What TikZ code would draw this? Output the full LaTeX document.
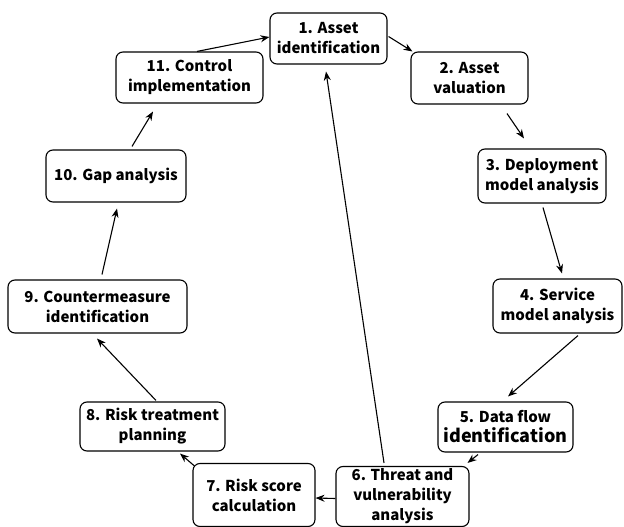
\documentclass[tikz,border=0pt]{standalone}
\usepackage{fontspec}
\setmainfont{Noto Sans CJK SC}
\usetikzlibrary{arrows.meta,calc}
\begin{document}
\begin{tikzpicture}[x=1pt,y=-1pt,
  stepbox/.style={draw, line width=1.1pt, rounded corners=7pt, align=center,
    inner sep=0pt, font=\fontsize{15}{20}\selectfont\bfseries},
  arr/.style={line width=1.1pt, -{Stealth[length=9pt,width=7pt]}}]
\useasboundingbox (0,0) rectangle (624,527);
\node[stepbox, minimum width=117pt, minimum height=51pt] (n1) at (328.5,38.5) {1. Asset\\identification};
\node[stepbox, minimum width=117pt, minimum height=52pt] (n2) at (469.5,78) {2. Asset\\valuation};
\node[stepbox, minimum width=128pt, minimum height=54pt] (n3) at (542,176) {3. Deployment\\model analysis};
\node[stepbox, minimum width=129pt, minimum height=54pt] (n4) at (557.5,306) {4. Service\\model analysis};
\node[stepbox, minimum width=135pt, minimum height=50pt] (n5) at (505.5,427) {5. Data flow\\{\fontsize{18}{20}\selectfont identification}};
\node[stepbox, minimum width=133pt, minimum height=60pt] (n6) at (402.5,496.5) {6. Threat and\\vulnerability\\analysis};
\node[stepbox, minimum width=122pt, minimum height=63pt] (n7) at (254,495) {7. Risk score\\calculation};
\node[stepbox, minimum width=145pt, minimum height=49pt] (n8) at (152.5,426.5) {8. Risk treatment\\planning};
\node[stepbox, minimum width=179pt, minimum height=53pt] (n9) at (97.5,306.5) {9. Countermeasure\\identification};
\node[stepbox, minimum width=140pt, minimum height=52pt] (n10) at (116,176) {10. Gap analysis};
\node[stepbox, minimum width=147pt, minimum height=51pt] (n11) at (189.5,77.5) {11. Control\\implementation};

\draw[arr] ($(n1.east)+(1,-2)$) -- ($(n2.north west)+(2,0)$);
\draw[arr] ($(n2.south)+(37.5,9)$) -- ($(n3.north)+(-18,-10)$);
\draw[arr] ($(n3.south)+(1,4)$) -- ($(n4.north)+(4.5,-5)$);
\draw[arr] ($(n4.south)+(20.5,2)$) -- ($(n5.north)+(2.5,-5)$);
\draw[arr] ($(n5.south)+(-27.5,2)$) -- ($(n6.north east)+(-2,-3)$);
\draw[arr] ($(n6.north)+(-18.5,-3)$) -- ($(n1.south)+(-2.5,7)$);
\draw[arr] ($(n6.west)+(0,2)$) -- ($(n7.east)+(0,3)$);
\draw[arr] ($(n7.north west)+(2,3)$) -- ($(n8.south)+(27.5,2)$);
\draw[arr] ($(n8.north)+(3.5,-1)$) -- ($(n9.south)+(-0.5,5)$);
\draw[arr] ($(n9.north)+(4.5,-5)$) -- ($(n10.south)+(1,6)$);
\draw[arr] ($(n10.north)+(16,-3)$) -- ($(n11.south)+(-36.5,8)$);
\draw[arr] ($(n11.north)+(7.5,0)$) -- ($(n1.west)+(0,-1.5)$);
\end{tikzpicture}
\end{document}
